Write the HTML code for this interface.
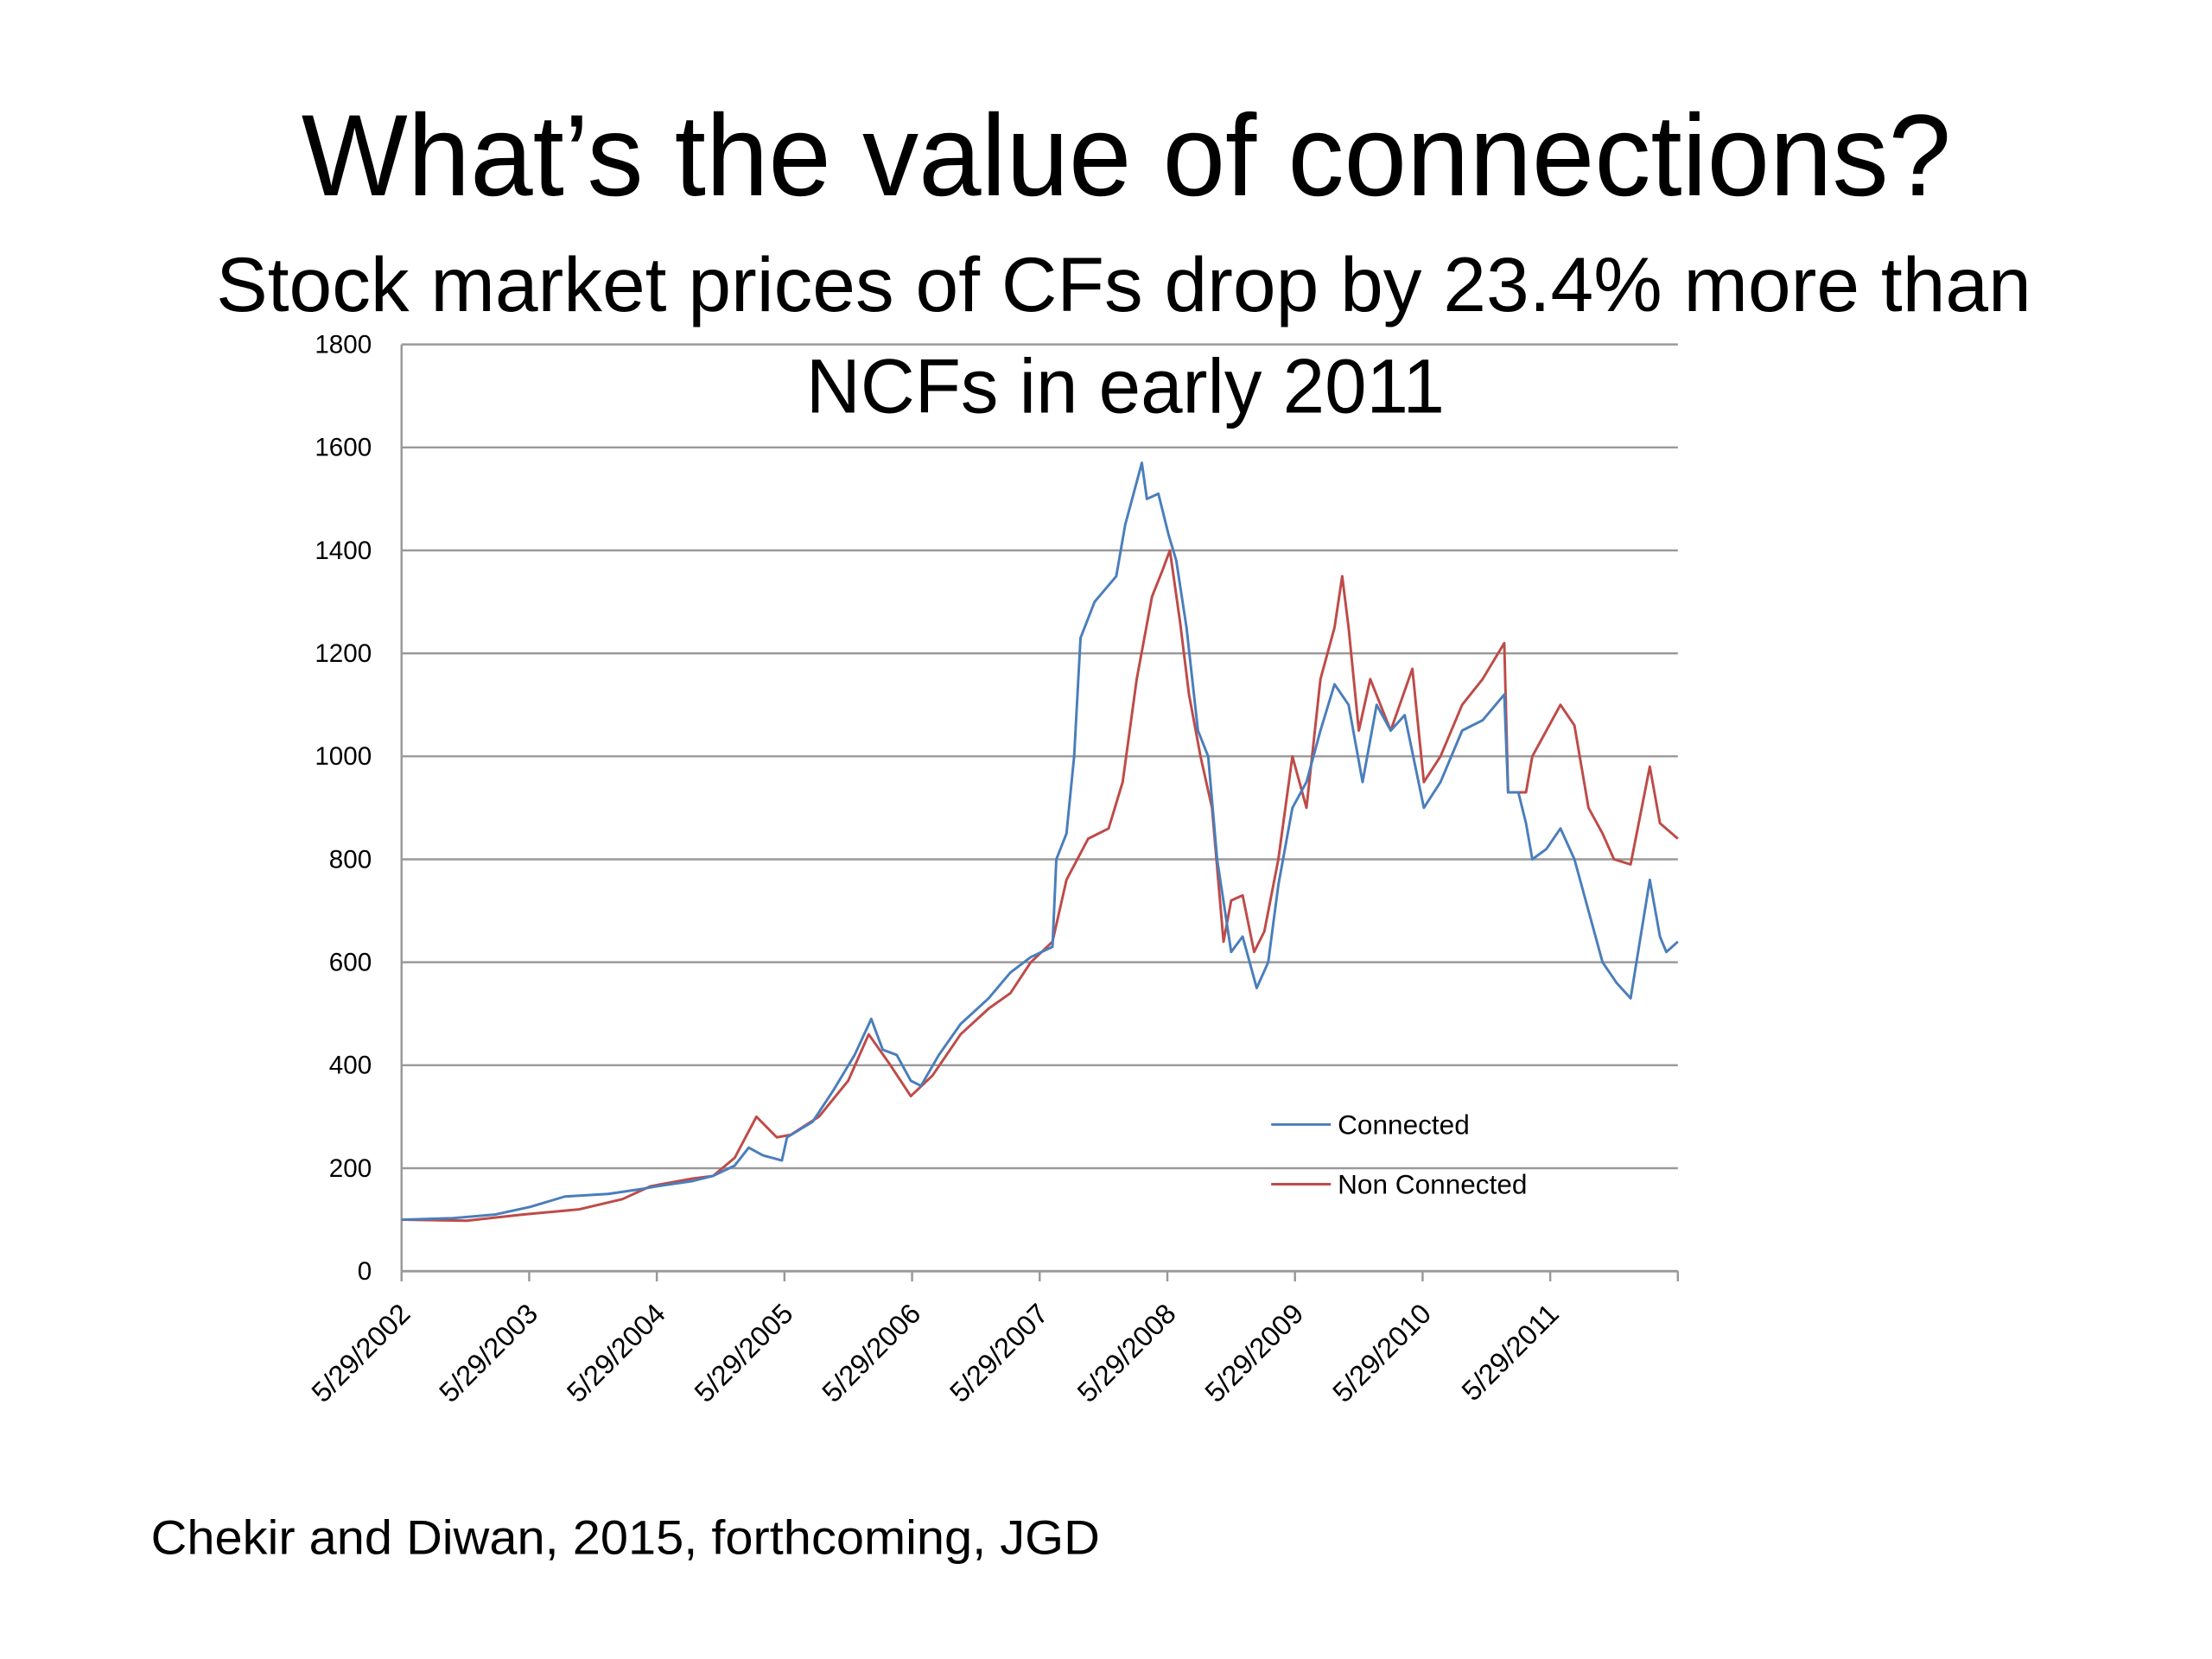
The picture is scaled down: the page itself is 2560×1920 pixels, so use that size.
<!DOCTYPE html>
<html><head><meta charset="utf-8"><style>
html,body{margin:0;padding:0;background:#fff;}
svg{display:block;font-family:"Liberation Sans",sans-serif;}
</style></head><body>
<svg id="chart" width="2560" height="1920" viewBox="0 0 2560 1920" xmlns="http://www.w3.org/2000/svg">
<rect width="2560" height="1920" fill="#fff"/>
<g transform="scale(0.9867)">
<text x="1321" y="229" font-size="136" text-anchor="middle" textLength="1935" lengthAdjust="spacingAndGlyphs" fill="#000">What’s the value of connections?</text>
<text x="1318" y="365" font-size="90" text-anchor="middle" textLength="2129" lengthAdjust="spacingAndGlyphs" fill="#000">Stock market prices of CFs drop by 23.4% more than</text>
<text x="1320" y="484" font-size="90" text-anchor="middle" textLength="749" lengthAdjust="spacingAndGlyphs" fill="#000">NCFs in early 2011</text>
<g id="grid"></g><g id="axes"></g><g id="series"></g>
<g>
<line x1="1491" y1="1319" x2="1561" y2="1319" stroke="#4a7ebb" stroke-width="3"/>
<text x="1569" y="1330" font-size="32" fill="#000">Connected</text>
<line x1="1491" y1="1389" x2="1561" y2="1389" stroke="#be4b48" stroke-width="3"/>
<text x="1569" y="1400" font-size="32" fill="#000">Non Connected</text>
</g>
<text x="177" y="1823" font-size="56" textLength="1113" lengthAdjust="spacingAndGlyphs" fill="#000">Chekir and Diwan, 2015, forthcoming, JGD</text>
</g>
</svg>
<script>
const yTicks = [0,200,400,600,800,1000,1200,1400,1600,1800];
const xTickLabels = ["5/29/2002","5/29/2003","5/29/2004","5/29/2005","5/29/2006","5/29/2007","5/29/2008","5/29/2009","5/29/2010","5/29/2011"];
const connYears = [2002.41,2002.81,2003.14,2003.42,2003.69,2004.03,2004.30,2004.41,2004.69,2004.85,2005.02,2005.13,2005.24,2005.39,2005.43,2005.63,2005.79,2005.96,2006.09,2006.18,2006.29,2006.40,2006.48,2006.62,2006.79,2007.01,2007.18,2007.34,2007.51,2007.54,2007.62,2007.68,2007.73,2007.84,2008.01,2008.08,2008.21,2008.25,2008.34,2008.42,2008.48,2008.56,2008.65,2008.73,2008.80,2008.91,2009.00,2009.11,2009.20,2009.28,2009.39,2009.50,2009.61,2009.72,2009.83,2009.94,2010.05,2010.16,2010.27,2010.42,2010.55,2010.72,2010.88,2011.05,2011.08,2011.16,2011.22,2011.27,2011.38,2011.49,2011.60,2011.71,2011.82,2011.93,2012.04,2012.19,2012.27,2012.32,2012.41];
const connected = [100,103,110,125,145,150,160,165,175,185,205,240,225,215,260,290,350,420,490,430,420,370,360,420,480,530,580,610,630,800,850,1000,1230,1300,1350,1450,1570,1500,1510,1430,1380,1250,1050,1000,800,620,650,550,600,750,900,950,1050,1140,1100,950,1100,1050,1080,900,950,1050,1070,1120,930,930,870,800,820,860,800,700,600,560,530,760,650,620,640];
const ncYears = [2002.41,2002.92,2003.36,2003.80,2004.14,2004.36,2004.69,2004.85,2005.02,2005.19,2005.35,2005.46,2005.68,2005.91,2006.07,2006.24,2006.40,2006.57,2006.79,2007.01,2007.18,2007.34,2007.51,2007.62,2007.79,2007.95,2008.06,2008.17,2008.29,2008.37,2008.43,2008.51,2008.58,2008.67,2008.76,2008.85,2008.91,2009.00,2009.09,2009.17,2009.28,2009.39,2009.50,2009.61,2009.72,2009.78,2009.83,2009.91,2010.00,2010.16,2010.33,2010.42,2010.55,2010.72,2010.88,2011.05,2011.08,2011.22,2011.27,2011.38,2011.49,2011.60,2011.71,2011.82,2011.91,2012.04,2012.19,2012.27,2012.41];
const nonConnected = [100,98,110,120,140,165,180,185,220,300,260,265,300,370,460,400,340,380,460,510,540,600,640,760,840,860,950,1150,1310,1360,1400,1260,1120,1000,900,640,720,730,620,660,800,1000,900,1150,1250,1350,1250,1050,1150,1050,1170,950,1000,1100,1150,1220,930,930,1000,1050,1100,1060,900,850,800,790,980,870,840];

const L=471,R=1968,Y0=1491,Y1=404;
const x=v=>L+(v-2002.41)/10*(R-L);
const y=v=>Y0-v/1800*(Y0-Y1);
const NS="http://www.w3.org/2000/svg";
function mk(tag,attrs,parent){const e=document.createElementNS(NS,tag);for(const k in attrs)e.setAttribute(k,attrs[k]);parent.appendChild(e);return e;}
const grid=document.getElementById('grid'),axes=document.getElementById('axes'),ser=document.getElementById('series');
yTicks.forEach(t=>{
  if(t>0){const g=mk('line',{x1:L,x2:R,y1:y(t),y2:y(t),stroke:'#999','stroke-width':2.5},grid);
  
  }
  const tx=mk('text',{x:436,y:y(t)+10,'font-size':30,'text-anchor':'end',fill:'#000'},axes);
  tx.textContent=t;
  
  
});
const ya=mk('line',{x1:L,x2:L,y1:Y1,y2:Y0,stroke:'#999','stroke-width':2.5},axes);


const xa=mk('line',{x1:L,x2:R,y1:Y0,y2:Y0,stroke:'#999','stroke-width':3},axes);


for(let i=0;i<=10;i++){
  const px=x(2002.41+i);
  mk('line',{x1:px,x2:px,y1:Y0,y2:Y0+12,stroke:'#999','stroke-width':2.5},axes);
}
xTickLabels.forEach((lab,i)=>{
  const px=x(2002.41+i)+12,py=Y0+52;
  const t=mk('text',{x:px,y:py,'font-size':33,'text-anchor':'end',fill:'#000',transform:`rotate(-45 ${px} ${py})`},axes);
  t.textContent=lab;
  
  
});
function line(xs,vs,color,name){
  const d=xs.map((a,i)=>(i?'L':'M')+x(a).toFixed(1)+' '+y(vs[i]).toFixed(1)).join(' ');
  const p=mk('path',{d:d,fill:'none',stroke:color,'stroke-width':3,'stroke-linejoin':'round'},ser);
  
  
}
line(ncYears,nonConnected,'#be4b48','non-connected-line');
line(connYears,connected,'#4a7ebb','connected-line');
</script>
</body></html>
